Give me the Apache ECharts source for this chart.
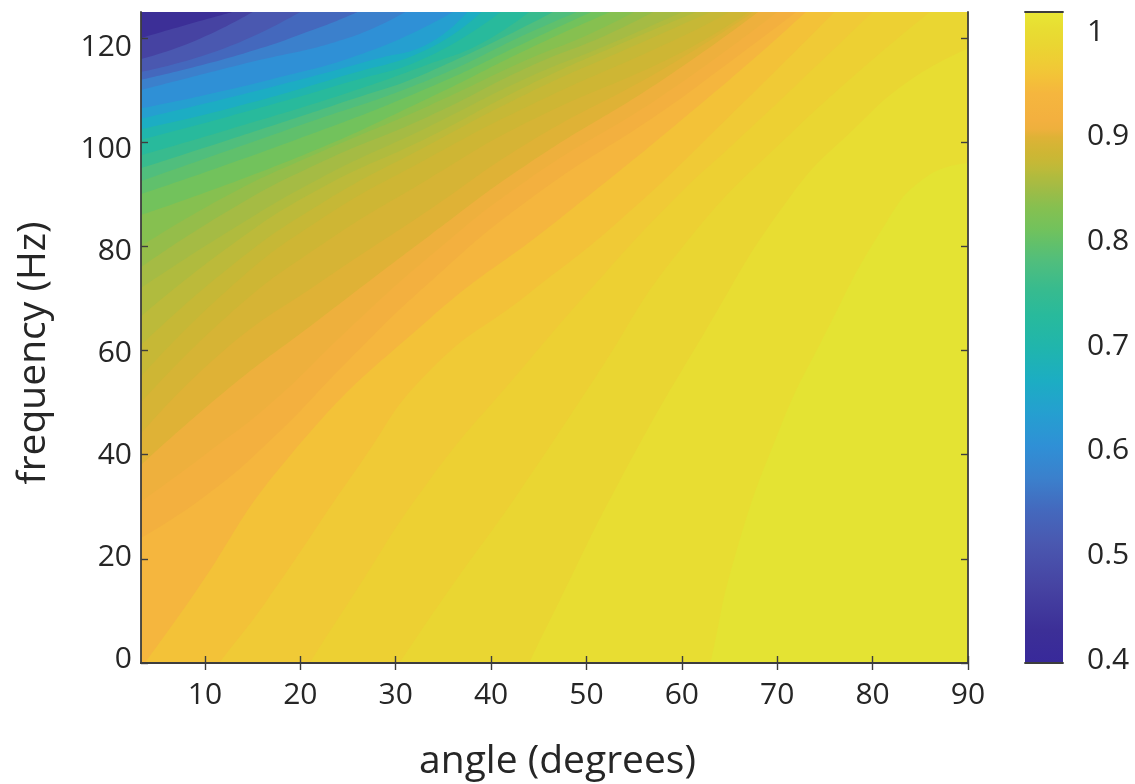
<!DOCTYPE html>
<html>
<head>
<meta charset="utf-8">
<style>html,body{margin:0;padding:0;background:#fff}#c{width:1135px;height:784px}</style>
<script src="https://cdn.jsdelivr.net/npm/echarts@6/dist/echarts.min.js"></script>
</head>
<body>
<div id="c"></div>
<script>
const angleTicks = [10,20,30,40,50,60,70,80,90];
const freqTicks = [0,20,40,60,80,100,120];
const xName = 'angle (degrees)';
const yName = 'frequency (Hz)';

// Contour levels, from highest to lowest, with the colour of each band
const contourLevels = [1,0.985,0.97,0.96,0.95,0.94,0.925,0.9,0.892,0.885,0.878,0.87,0.862,0.855,0.848,0.84,0.83,0.82,0.8,0.785,0.77,0.745,0.72,0.69,0.66,0.63,0.6,0.57,0.54,0.51,0.47,0.43];
const contourColors = ['#e4e333','#e8dd32','#ead632','#edd033','#f0ca36','#f3c238','#f5b63e','#f3b03f','#eeb03d','#dfb236','#d6b435','#ceb634','#c6b836','#bcba3a','#b0bb3e','#a5bb44','#95bd4a','#86c050','#72c25c','#60c06c','#50be7d','#38bb8e','#28ba9c','#20b5ad','#1cadc3','#259fd0','#2f90d6','#3b80cc','#4468bd','#4a58b0','#4643a2','#3c2f97'];

// Each contour as [angle, frequency] pairs
// (the first points of the lower ones run on below the zero line, where the axis clips them)
const contourLines = [
 [[3.3,0],[90,0]],
 [[3.3,-20],[60.5,-20],[63,0],[65.5,20],[70.2,44.7],[74.7,62],[81.4,84.5],[85.6,93.3],[90,96]],
 [[3.3,-12],[41,-12],[44,0],[47.2,12],[53.5,35],[62.1,62.6],[71.3,89.4],[78.3,103],[84,112],[90,118]],
 [[3.3,-12],[26,-12],[30.4,0],[35.6,14],[43,33],[51,55],[59.7,79],[71.6,102],[86,125]],
 [[3.3,-12],[17,-12],[21,0],[25.2,12],[33.5,35],[43,56],[52,75],[59.7,90],[65,99],[72,111],[80,125]],
 [[3.3,-12],[6.5,-12],[11.5,0],[16.5,12],[26.2,38],[33.5,56],[44,71],[53.5,85],[65,105],[76,125]],
 [[3.3,-1],[8.4,12],[19,40],[33.5,66],[47,85],[65,112],[73,125]],
 [[3.3,24],[10,32],[17,43],[25,58],[33.5,73],[44,89],[58,106],[64,114],[72,125]],
 [[3.3,31],[10,40],[17,50],[25,64],[33.5,78],[44,93],[58,109],[70,125]],
 [[3.3,38],[12,52],[22,66],[33.5,82],[44,96],[58,112],[68,125]],
 [[3.3,44],[12,60],[22,73],[33.5,87],[44,100],[58,114],[67.5,125]],
 [[3.3,50],[12.6,67],[22,80],[33.5,93],[44,104],[59.7,117],[67,125]],
 [[3.3,55],[12.6,72],[22,85],[33.5,97],[44,107],[59.7,120],[65,125]],
 [[3.3,61],[12.6,76],[22,88],[33.5,99.5],[44,109.5],[55,118.5],[63,125]],
 [[3.3,66.5],[12.6,80],[22,91],[33.5,101],[44,111],[55,120],[61.5,125]],
 [[3.3,72],[12.6,83],[22,93],[33.5,103],[44,112.5],[52,118.5],[60,125]],
 [[3.3,76],[12.6,87],[22,96],[33.5,105],[44,114.5],[52,120.5],[57,125]],
 [[3.3,80],[12.6,90],[22,98],[33.5,107],[44,116],[50,120.5],[55,125]],
 [[3.3,86],[19.6,97],[33.5,108.5],[44,118],[52.5,125]],
 [[3.3,90],[19.6,100.5],[33.5,110.5],[44,119.5],[50.5,125]],
 [[3.3,92.5],[19.6,103],[33.5,112],[44,121],[49,125]],
 [[3.3,95],[12.6,100.5],[25,108],[33.5,113.5],[46.5,125]],
 [[3.3,97.5],[12.6,102.5],[25,109.5],[33.5,115],[39,119],[44,125]],
 [[3.3,100.5],[12.6,105],[25,111.5],[33.5,116.5],[41,125]],
 [[3.3,102.5],[12.6,106.5],[25,113],[33.5,118],[39,125]],
 [[3.3,104.5],[16.8,110.5],[28,116],[33.5,119],[37.5,125]],
 [[3.3,106.5],[16.8,112],[28,118],[36,125]],
 [[3.3,110],[14,115],[25,120],[31,125]],
 [[3.3,112],[14,117],[22,122],[26,125]],
 [[3.3,113.5],[12,118],[20,125]],
 [[3.3,116],[9,119.5],[15,125]],
 [[3.3,120],[8,122.5],[12.9,125]]
];

const colorbarMin = 0.4, colorbarMax = 1, colorbarLowColor = '#38299a', colorbarTopColor = '#e8e634';

const FONT = '"Open Sans"';
const INK = '#262626', FRAME = '#3d3d3d';
const hiddenX = (gridIndex) => ({type:'value',gridIndex,min:0,max:1,show:false});
const frame = {lineStyle:{color:FRAME,width:1.8}};
const inTick = {inside:true,length:7,lineStyle:{color:FRAME,width:1.4}};

const chart = echarts.init(document.getElementById('c'));
const bandSeries = contourLines.map((line,i)=>({
  type:'line',name:String(contourLevels[i]),xAxisIndex:0,yAxisIndex:0,
  data:line,smooth:0.5,showSymbol:false,silent:true,
  lineStyle:{width:0},itemStyle:{color:contourColors[i]},
  areaStyle:{color:contourColors[i],opacity:1,origin:'end'},
  z:2+i*0.001,animation:false
}));
const barStops = contourLevels.map((v,i)=>({offset:(v-colorbarMin)/(colorbarMax-colorbarMin),color:i===0?colorbarTopColor:contourColors[i]})).reverse();
barStops.unshift({offset:0,color:colorbarLowColor});

chart.setOption({
  animation:false,
  backgroundColor:'#fff',
  grid:[
    {left:141,top:12,width:827,height:651,outerBoundsMode:'none'},
    {left:1025,top:12,width:38,height:651,outerBoundsMode:'none'},
    {left:141,top:47,width:827,height:612,outerBoundsMode:'none'},
    {left:1025,top:32,width:38,height:628,outerBoundsMode:'none'}
  ],
  xAxis:[
    {type:'value',gridIndex:0,min:3.3,max:90,position:'bottom',z:10,axisLine:frame,splitLine:{show:false},
     axisTick:Object.assign({customValues:angleTicks},inTick),
     axisLabel:{customValues:angleTicks,color:INK,fontFamily:FONT,fontSize:30,margin:17},
     name:xName,nameLocation:'middle',nameGap:79,nameTextStyle:{color:INK,fontFamily:FONT,fontSize:39,padding:[0,0,0,6]}},
    {type:'value',gridIndex:0,min:3.3,max:90,position:'top',z:10,axisLine:frame,splitLine:{show:false},
     axisTick:Object.assign({customValues:angleTicks},inTick),axisLabel:{show:false}},
    {type:'category',gridIndex:1,data:['c'],z:10,axisLine:frame,axisTick:{show:false},axisLabel:{show:false}},
    {type:'category',gridIndex:1,data:['c'],position:'top',z:10,axisLine:frame,axisTick:{show:false},axisLabel:{show:false}},
    hiddenX(2),hiddenX(3)
  ],
  yAxis:[
    {type:'value',gridIndex:0,min:0,max:125,position:'left',z:10,axisLine:frame,splitLine:{show:false},
     axisTick:Object.assign({customValues:freqTicks},inTick),axisLabel:{show:false}},
    {type:'value',gridIndex:0,min:0,max:125,position:'right',z:10,axisLine:frame,splitLine:{show:false},
     axisTick:Object.assign({customValues:freqTicks},inTick),axisLabel:{show:false}},
    {type:'value',gridIndex:1,min:0.4,max:1,interval:0.1,position:'right',z:10,axisLine:frame,splitLine:{show:false},
     axisTick:inTick,axisLabel:{show:false}},
    {type:'value',gridIndex:1,min:0.4,max:1,interval:0.1,position:'left',z:10,axisLine:frame,splitLine:{show:false},
     axisTick:{show:false},axisLabel:{show:false}},
    {type:'value',gridIndex:2,min:0,max:120,interval:20,position:'left',axisLine:{show:false},axisTick:{show:false},splitLine:{show:false},
     axisLabel:{color:INK,fontFamily:FONT,fontSize:30,margin:9},
     name:yName,nameLocation:'middle',nameGap:88,nameTextStyle:{color:INK,fontFamily:FONT,fontSize:39}},
    {type:'value',gridIndex:3,min:0.4,max:1,interval:0.1,position:'right',axisLine:{show:false},axisTick:{show:false},splitLine:{show:false},
     axisLabel:{color:INK,fontFamily:FONT,fontSize:30,margin:24,align:'left',formatter:(v)=>String(Math.round(v*10)/10)}}
  ],
  series:[
    ...bandSeries,
    {type:'bar',name:'colorbar',xAxisIndex:2,yAxisIndex:2,data:[colorbarMax],barWidth:'100%',silent:true,animation:false,
     itemStyle:{color:{type:'linear',x:0,y:1,x2:0,y2:0,colorStops:barStops}},z:2}
  ]
});
</script>
</body>
</html>
